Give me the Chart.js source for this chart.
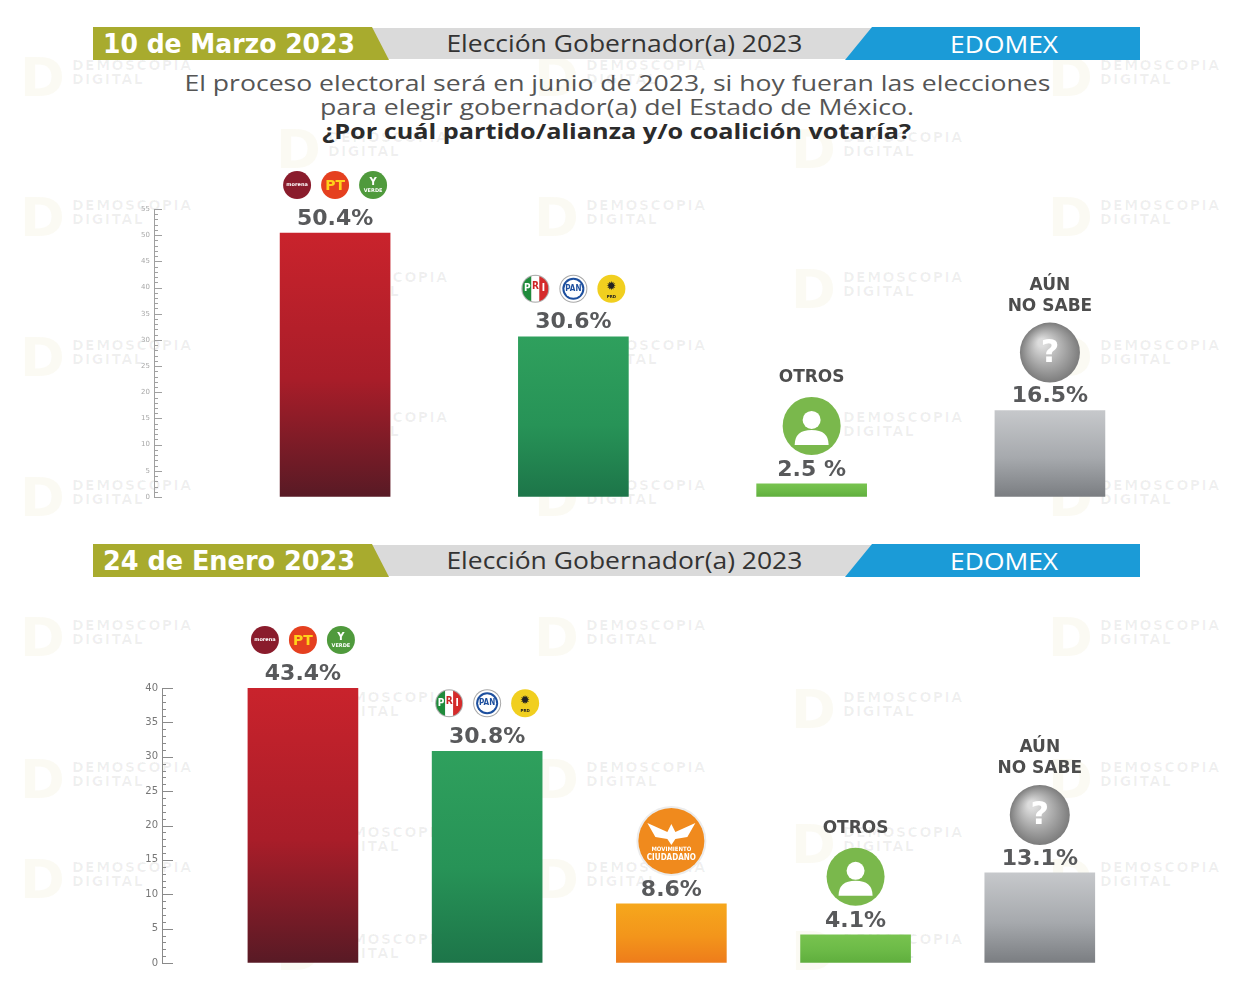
<!DOCTYPE html>
<html>
<head>
<meta charset="utf-8">
<script src="https://cdn.jsdelivr.net/npm/chart.js@4/dist/chart.umd.min.js"></script>
<style>
body{margin:0;background:#fff;width:1234px;height:988px;position:relative;overflow:hidden;font-family:"Open Sans",sans-serif}
.band{position:absolute;left:93px;width:1047px;height:31px;background:#dadada}
.olive{position:absolute;left:93px;width:296px;height:33px;background:#a8ab2e;clip-path:polygon(0 0,279px 0,296px 100%,0 100%)}
.blue{position:absolute;left:845px;width:295px;height:33px;background:#1b9bd7;clip-path:polygon(27px 0,100% 0,100% 100%,0 100%)}
.t{position:absolute;white-space:nowrap;line-height:1}
.wm{position:absolute;white-space:nowrap;line-height:1}
canvas{position:absolute;left:0}
</style>
</head>
<body>
<div class="band" style="top:28px"></div>
<div class="olive" style="top:27px"></div>
<div class="blue" style="top:27px"></div>
<div class="band" style="top:545px"></div>
<div class="olive" style="top:544px"></div>
<div class="blue" style="top:544px"></div>

<canvas id="chartMar" width="1234" height="360" style="top:150px"></canvas>
<canvas id="chartEne" width="1234" height="390" style="top:590px"></canvas>

<script>
// textos
const fechas = ['10 de Marzo 2023', '24 de Enero 2023'];
const titulo = 'Elección Gobernador(a) 2023';
const estado = 'EDOMEX';
const pregunta = [
  'El proceso electoral será en junio de 2023, si hoy fueran las elecciones',
  'para elegir gobernador(a) del Estado de México.',
  '¿Por cuál partido/alianza y/o coalición votaría?'
];

// 10 de marzo
const opcionesMar = ['MORENA-PT-PVEM', 'PRI-PAN-PRD', 'OTROS', 'AÚN NO SABE'];
const votosMar = [50.4, 30.6, 2.5, 16.5];
const textoMar = ['50.4%', '30.6%', '2.5 %', '16.5%'];
const logosMar = [['morena', 'pt', 'verde'], ['pri', 'pan', 'prd'], ['otros'], ['nosabe']];
const ticksMar = [0, 5, 10, 15, 20, 25, 30, 35, 40, 45, 50, 55];

// 24 de enero
const opcionesEne = ['MORENA-PT-PVEM', 'PRI-PAN-PRD', 'MC', 'OTROS', 'AÚN NO SABE'];
const votosEne = [43.4, 30.8, 8.6, 4.1, 13.1];
const textoEne = ['43.4%', '30.8%', '8.6%', '4.1%', '13.1%'];
const logosEne = [['morena', 'pt', 'verde'], ['pri', 'pan', 'prd'], ['mc'], ['otros'], ['nosabe']];
const ticksEne = [0, 5, 10, 15, 20, 25, 30, 35, 40];

// colores de barra (arriba, medio, abajo)
const colores = {
  'MORENA-PT-PVEM': ['#c9232c', '#a91d29', '#581a25'],
  'PRI-PAN-PRD': ['#2fa05d', '#279357', '#1d7549'],
  'MC': ['#f6a71c', '#f3951b', '#ee7c1b'],
  'OTROS': ['#78c34f', '#6cba47', '#5fae3d'],
  'AÚN NO SABE': ['#c6c8cb', '#a6a9ad', '#7a7d81']
};


// ---------- textos html ----------
function put(txt, x, y, w, css, align){
  const d = document.createElement('div');
  d.className = 't';
  d.textContent = txt;
  d.style.cssText += css;
  document.body.appendChild(d);
  const r = d.getBoundingClientRect();
  d.style.top = (y - r.height / 2) + 'px';
  if(align === 'l'){
    d.style.left = x + 'px';
    d.style.transformOrigin = 'left center';
  } else {
    d.style.left = (x - r.width / 2) + 'px';
    d.style.transformOrigin = 'center center';
  }
  d.style.transform = 'scaleX(' + (w / r.width) + ')';
}

// marca de agua
const wmA = [72, 586, 1100], wmB = [328, 843];
const filasA = [73, 213, 353, 493, 633, 775, 875], filasB = [145, 285, 425, 705, 840, 947];
function marca(x, y){
  const d = document.createElement('div');
  d.className = 'wm';
  d.style.left = (x - 52) + 'px'; d.style.top = (y - 27) + 'px';
  d.style.font = 'bold 54px "DejaVu Sans"'; d.style.color = 'rgba(215,205,140,0.10)';
  d.textContent = 'D';
  document.body.insertBefore(d, document.body.firstChild);
  const e = document.createElement('div');
  e.className = 'wm';
  e.style.left = x + 'px'; e.style.top = (y - 15) + 'px';
  e.style.font = 'bold 14px "DejaVu Sans"'; e.style.color = 'rgba(0,0,0,0.06)';
  e.style.letterSpacing = '1.5px'; e.style.lineHeight = '14px';
  e.innerHTML = 'DEMOSCOPIA<br>DIGITAL';
  document.body.insertBefore(e, document.body.firstChild);
}
filasA.forEach(y => wmA.forEach(x => marca(x, y)));
filasB.forEach(y => wmB.forEach(x => marca(x, y)));

[[43, 0], [560, 1]].forEach(function(h){
  const y = h[0];
  put(fechas[h[1]], 103, y, 252, 'font:bold 27px "DejaVu Sans Condensed";color:#fff', 'l');
  put(titulo, 624, y - 1, 356, 'font:500 24px "Open Sans";color:#333', 'c');
  put(estado, 1004, y + 1, 108, 'font:500 23px "Open Sans";color:#fff', 'c');
});
put(pregunta[0], 617, 82, 866, 'font:22px "Open Sans";color:#555', 'c');
put(pregunta[1], 617, 106, 594, 'font:22px "Open Sans";color:#555', 'c');
put(pregunta[2], 617, 130, 589, 'font:bold 22px "Open Sans";color:#2b2b2b', 'c');


// ---------- logos ----------
function circ(c, x, y, r, fill){
  c.beginPath(); c.arc(x, y, r, 0, Math.PI * 2); c.fillStyle = fill; c.fill();
}
function txt(c, s, x, y, font, color){
  c.font = font; c.fillStyle = color; c.textAlign = 'center'; c.textBaseline = 'middle';
  c.fillText(s, x, y);
}
function logo(c, kind, x, y){
  c.save();
  if(kind === 'morena'){
    circ(c, x, y, 14, '#8a1c2c');
    txt(c, 'morena', x, y, 'bold 5px "DejaVu Sans"', '#fff');
  } else if(kind === 'pt'){
    circ(c, x, y, 14, '#e5401f');
    txt(c, 'PT', x, y + 1, 'bold 14px "DejaVu Sans"', '#ffd21a');
  } else if(kind === 'verde'){
    circ(c, x, y, 14, '#4f9a3c');
    txt(c, 'Y', x, y - 3, 'bold 10px "DejaVu Sans"', '#fff');
    txt(c, 'VERDE', x, y + 6, 'bold 5px "DejaVu Sans"', '#fff');
  } else if(kind === 'pri'){
    circ(c, x, y, 14, '#b0b0b0');
    c.save(); c.beginPath(); c.arc(x, y, 13, 0, Math.PI * 2); c.clip();
    c.fillStyle = '#1f8b3b'; c.fillRect(x - 13, y - 13, 9, 26);
    c.fillStyle = '#fff'; c.fillRect(x - 4, y - 13, 8, 26);
    c.fillStyle = '#d52b2b'; c.fillRect(x + 4, y - 13, 9, 26);
    c.restore();
    txt(c, 'P', x - 8, y, 'bold 10px "DejaVu Sans Condensed"', '#fff');
    txt(c, 'R', x, y - 2, 'bold 10px "DejaVu Sans Condensed"', '#c22');
    txt(c, 'I', x + 8, y, 'bold 10px "DejaVu Sans Condensed"', '#fff');
  } else if(kind === 'pan'){
    circ(c, x, y, 14, '#a8a8a8');
    circ(c, x, y, 13, '#fff');
    circ(c, x, y, 11, '#1d4f9e');
    circ(c, x, y, 9, '#fff');
    txt(c, 'PAN', x, y, 'bold 8px "DejaVu Sans Condensed"', '#1d4f9e');
  } else if(kind === 'prd'){
    circ(c, x, y, 14, '#f1cf1f');
    txt(c, '✹', x, y - 2, 'bold 12px "DejaVu Sans"', '#222');
    txt(c, 'PRD', x, y + 8, 'bold 4px "DejaVu Sans"', '#222');
  } else if(kind === 'mc'){
    circ(c, x, y, 35, '#ececec');
    circ(c, x, y, 33, '#f08a1d');
    c.fillStyle = '#fff';
    c.beginPath();
    c.moveTo(x - 24, y - 18); c.lineTo(x - 4, y - 9); c.lineTo(x, y - 17); c.lineTo(x + 4, y - 9);
    c.lineTo(x + 24, y - 18); c.lineTo(x + 16, y - 4); c.lineTo(x + 4, y - 2); c.lineTo(x, y + 4);
    c.lineTo(x - 4, y - 2); c.lineTo(x - 16, y - 4); c.closePath(); c.fill();
    txt(c, 'MOVIMIENTO', x, y + 9, 'bold 6px "DejaVu Sans Condensed"', '#fff');
    txt(c, 'CIUDADANO', x, y + 17, 'bold 8px "DejaVu Sans Condensed"', '#fff');
  } else if(kind === 'otros'){
    circ(c, x, y, 29, '#7ab84c');
    c.fillStyle = '#fff';
    c.beginPath(); c.arc(x, y - 6, 9, 0, Math.PI * 2); c.fill();
    c.beginPath(); c.moveTo(x - 17, y + 19);
    c.quadraticCurveTo(x - 17, y + 4, x, y + 4);
    c.quadraticCurveTo(x + 17, y + 4, x + 17, y + 19);
    c.closePath(); c.fill();
  } else if(kind === 'nosabe'){
    const g = c.createRadialGradient(x - 8, y - 10, 4, x, y, 30);
    g.addColorStop(0, '#dcdcdc'); g.addColorStop(1, '#7c7c7c');
    circ(c, x, y, 30, g);
    txt(c, '?', x, y + 1, 'bold 32px "DejaVu Sans"', '#fff');
  }
  c.restore();
}


// ---------- plugins ----------
function marcasY(mayor, menor, color){
  return {
    id: 'marcasY',
    afterDraw(chart){
      const y = chart.scales.y, c = chart.ctx, x0 = chart.chartArea.left;
      c.save();
      c.strokeStyle = color; c.lineWidth = 1;
      c.beginPath();
      for(let v = y.min; v <= y.max; v++){
        const py = Math.round(y.getPixelForValue(v)) + 0.5;
        c.moveTo(x0, py);
        c.lineTo(x0 + (v % 5 === 0 ? mayor : menor), py);
      }
      c.stroke();
      c.restore();
    }
  };
}

function notas(opciones, textos, logos){
  return {
    id: 'notas',
    afterDatasetsDraw(chart){
      const c = chart.ctx, area = chart.chartArea;
      const barras = chart.getDatasetMeta(0).data;
      barras.forEach(function(b, i){
        const top = Math.max(b.y, area.top);
        const x = b.x;
        txt(c, textos[i], x, top - 14, 'bold 22px "DejaVu Sans"', '#58595b');
        const ls = logos[i];
        if(ls.length > 1){
          ls.forEach(function(k, j){ logo(c, k, x + (j - 1) * 38, top - 48); });
        } else {
          const r = ls[0] === 'mc' ? 35 : 30;
          const cy = top - 28 - r;
          logo(c, ls[0], x, cy);
          if(opciones[i] === 'OTROS'){
            txt(c, 'OTROS', x, cy - r - 18, 'bold 17px "DejaVu Sans"', '#4d4d4d');
          } else if(opciones[i] === 'AÚN NO SABE'){
            txt(c, 'AÚN', x, cy - r - 37, 'bold 17px "DejaVu Sans"', '#4d4d4d');
            txt(c, 'NO SABE', x, cy - r - 16, 'bold 17px "DejaVu Sans"', '#4d4d4d');
          }
        }
      });
    }
  };
}


// ---------- graficas ----------
function grafica(id, opciones, votos, textos, logos, ticks, cfg){
  const ctx = document.getElementById(id);
  new Chart(ctx, {
    type: 'bar',
    data: {
      datasets: [{
        data: votos.map((v, i) => ({x: i, y: v})),
        barThickness: 110,
        borderWidth: 0,
        backgroundColor: function(c){
          const par = colores[opciones[c.dataIndex]];
          const ch = c.chart, area = ch.chartArea;
          if(!area || !c.parsed) return par[0];
          const y = ch.scales.y;
          const y0 = Math.max(y.getPixelForValue(c.parsed.y), area.top);
          const g = ch.ctx.createLinearGradient(0, y0, 0, y.getPixelForValue(0));
          g.addColorStop(0, par[0]);
          g.addColorStop(0.55, par[1]);
          g.addColorStop(1, par[2]);
          return g;
        }
      }]
    },
    options: {
      responsive: false,
      animation: false,
      layout: {padding: cfg.padding},
      plugins: {legend: {display: false}, tooltip: {enabled: false}},
      scales: {
        x: {type: 'linear', display: false, offset: false, grid: {offset: false}, min: cfg.xmin, max: cfg.xmax},
        y: {
          min: ticks[0],
          max: ticks[ticks.length - 1],
          afterFit: function(s){ s.width = 40; },
          afterBuildTicks: function(s){ s.ticks = ticks.map(v => ({value: v})); },
          border: {display: true, color: cfg.eje, width: 1},
          grid: {drawOnChartArea: false, drawTicks: false},
          ticks: {padding: 4, color: cfg.letra, font: {family: 'DejaVu Sans', size: cfg.tam}}
        }
      }
    },
    plugins: [marcasY(cfg.mayor, cfg.menor, cfg.eje), notas(opciones, textos, logos)]
  });
}

grafica('chartMar', opcionesMar, votosMar, textoMar, logosMar, ticksMar, {
  padding: {left: 114, right: 94, top: 59, bottom: 13},
  xmin: -0.76, xmax: 3.378,
  eje: '#a0a0a0', letra: '#a8a8a8', tam: 7, mayor: 8, menor: 4
});

grafica('chartEne', opcionesEne, votosEne, textoEne, logosEne, ticksEne, {
  padding: {left: 122, right: 94, top: 98, bottom: 17},
  xmin: -0.765, xmax: 4.544,
  eje: '#8a8a8a', letra: '#777', tam: 10, mayor: 11, menor: 4
});
</script>
</body>
</html>
